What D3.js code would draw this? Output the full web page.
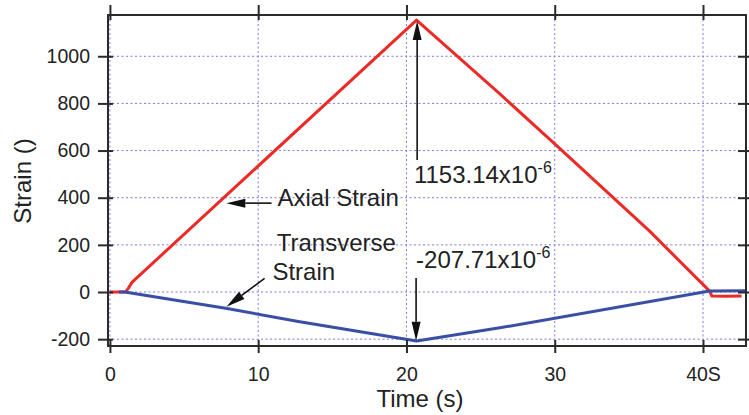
<!DOCTYPE html>
<html>
<head>
<meta charset="utf-8">
<script src="https://cdn.jsdelivr.net/npm/d3@7"></script>
<style>
  body { margin: 0; background: #fff; }
  svg { display: block; font-family: "Liberation Sans", Arial, sans-serif; }
</style>
</head>
<body>
<svg id="drawspace" width="749" height="415"></svg>
<script>
// values
let axialT = [0, 1.05, 1.2, 1.5, 9.2, 20.68, 26.3, 30.0, 36.4, 40.45, 40.6, 41.5, 42.6];
let axialV = [0, 0, 12, 42, 488, 1153, 840, 628, 258, 4, -17, -18, -17];
let transT = [0.6, 1.0, 7.9, 12.8, 20.68, 26.3, 40.45, 42.9];
let transV = [0, 0, -70, -126, -207.7, -152, 4, 5];

let xTicks = [0, 10, 20, 30, 40];
let xTickLabels = ["0", "10", "20", "30", "40S"];
let yTicks = [-200, 0, 200, 400, 600, 800, 1000];

let peakValue = "1153.14";
let troughValue = "-207.71";

let svg = d3.select("#drawspace");

let x = d3.scaleLinear().domain([-0.13, 42.9]).range([108, 746]);
let y = d3.scaleLinear().domain([-229, 1175]).range([346, 15]);

let frameColor = "#2a2a2a";
let textColor = "#222";

// grid
let grid = svg.append("g");
grid.selectAll("line.gx")
  .data(xTicks)
  .enter()
  .append("line")
  .attr("x1", (d) => x(d))
  .attr("x2", (d) => x(d))
  .attr("y1", y.range()[1])
  .attr("y2", y.range()[0])
  .attr("stroke", "#7c7cdc")
  .attr("stroke-width", 1)
  .attr("stroke-dasharray", "2,2.5");
grid.selectAll("line.gy")
  .data(yTicks)
  .enter()
  .append("line")
  .attr("x1", x.range()[0])
  .attr("x2", x.range()[1])
  .attr("y1", (d) => y(d))
  .attr("y2", (d) => y(d))
  .attr("stroke", "#7c7cdc")
  .attr("stroke-width", 1)
  .attr("stroke-dasharray", "2,2.5");

// data lines
let axial = axialT.map((t, i) => ({ t: t, v: axialV[i] }));
let trans = transT.map((t, i) => ({ t: t, v: transV[i] }));
let line = d3.line().x((d) => x(d.t)).y((d) => y(d.v));

svg.append("path")
  .datum(axial)
  .attr("fill", "none")
  .attr("stroke", "#ec2a26")
  .attr("stroke-width", 3)
  .attr("stroke-linejoin", "round")
  .attr("d", line);

svg.append("path")
  .datum(trans)
  .attr("fill", "none")
  .attr("stroke", "#3a4ea6")
  .attr("stroke-width", 3)
  .attr("stroke-linejoin", "round")
  .attr("d", line);

// frame
svg.append("rect")
  .attr("x", x.range()[0])
  .attr("y", y.range()[1])
  .attr("width", x.range()[1] - x.range()[0])
  .attr("height", y.range()[0] - y.range()[1])
  .attr("fill", "none")
  .attr("stroke", frameColor)
  .attr("stroke-width", 2);

// axes (ticks cross the frame)
function styleAxis(g) {
  g.select(".domain").remove();
  g.selectAll(".tick line").attr("stroke", frameColor).attr("stroke-width", 2);
  g.selectAll(".tick text")
    .attr("fill", textColor)
    .style("font-size", "19.5px")
    .style("font-family", "Liberation Sans, Arial, sans-serif");
}

svg.append("g")
  .attr("transform", "translate(113,0)")
  .call(
    d3.axisLeft(y)
      .tickValues(yTicks)
      .tickSize(15)
      .tickPadding(8)
      .tickFormat((d) => String(d))
  )
  .call(styleAxis);

svg.append("g")
  .attr("transform", "translate(738,0)")
  .call(d3.axisRight(y).tickValues(yTicks).tickSize(12).tickFormat(""))
  .call(styleAxis);

svg.append("g")
  .attr("transform", "translate(0,340)")
  .call(
    d3.axisBottom(x)
      .tickValues(xTicks)
      .tickSize(13)
      .tickPadding(14)
      .tickFormat((d, i) => xTickLabels[i])
  )
  .call(styleAxis);

svg.append("g")
  .attr("transform", "translate(0,20)")
  .call(d3.axisTop(x).tickValues(xTicks).tickSize(15).tickFormat(""))
  .call(styleAxis);

// axis titles
svg.append("text")
  .attr("transform", "translate(31,181) rotate(-90)")
  .attr("text-anchor", "middle")
  .attr("fill", textColor)
  .style("font-size", "24px")
  .text("Strain ()");

svg.append("text")
  .attr("x", 420)
  .attr("y", 407)
  .attr("text-anchor", "middle")
  .attr("fill", textColor)
  .style("font-size", "24px")
  .text("Time (s)");

// annotations
function arrow(t1, v1, t2, v2) {
  let x1 = x(t1), y1 = y(v1), x2 = x(t2), y2 = y(v2);
  let ang = Math.atan2(y2 - y1, x2 - x1);
  let len = 19, hw = 4.5;
  let bx = x2 - len * Math.cos(ang), by = y2 - len * Math.sin(ang);
  svg.append("line")
    .attr("x1", x1).attr("y1", y1)
    .attr("x2", bx).attr("y2", by)
    .attr("stroke", "#111")
    .attr("stroke-width", 1.6);
  let pts = [
    [x2, y2],
    [bx + hw * Math.sin(ang), by - hw * Math.cos(ang)],
    [bx - hw * Math.sin(ang), by + hw * Math.cos(ang)],
  ];
  svg.append("path")
    .attr("d", "M" + pts.join("L") + "Z")
    .attr("fill", "#111");
}

function label(t, v, txt) {
  return svg.append("text")
    .attr("x", x(t))
    .attr("y", y(v))
    .attr("fill", textColor)
    .style("font-size", "24px")
    .text(txt);
}

function sciLabel(t, v, num) {
  let el = label(t, v, num + "x10");
  el.append("tspan")
    .attr("dy", -10)
    .style("font-size", "16px")
    .text("-6");
}

arrow(20.72, 560, 20.72, 1150);
sciLabel(20.5, 462, peakValue);

arrow(20.65, 59, 20.65, -207);
sciLabel(20.65, 102, troughValue);

arrow(10.9, 377, 7.85, 377);
label(11.3, 365, "Axial Strain");

arrow(10.43, 58, 7.86, -62);
label(11.25, 174, "Transverse");
label(10.96, 51, "Strain");
</script>
</body>
</html>
